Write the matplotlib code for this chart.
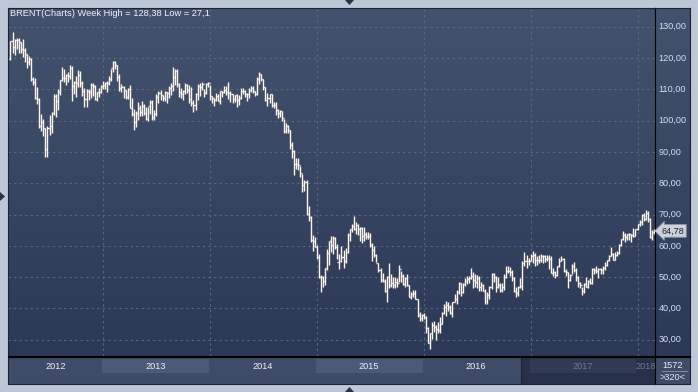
import numpy as np
import matplotlib.pyplot as plt
from matplotlib.colors import LinearSegmentedColormap
from matplotlib.patches import Rectangle, Polygon

# weekly bars, (high, low, close); first bar = week of 20 Feb 2012
bars_2012 = [
    (125.5, 119.4, 125.5), (128.4, 121.5, 123.6), (126.2, 121.0, 125.9), (126.4, 123.0, 125.8),
    (126.4, 121.7, 125.1), (125.2, 121.6, 122.9), (126.2, 120.5, 122.7), (123.3, 118.8, 121.2),
    (121.3, 116.9, 118.8), (120.7, 117.9, 119.8), (120.0, 112.6, 113.2), (114.0, 111.4, 112.3),
    (113.5, 107.0, 107.1), (110.6, 105.2, 106.8), (107.2, 97.6, 98.4), (102.0, 96.6, 99.5),
    (100.5, 95.2, 97.6), (97.8, 88.5, 91.0), (98.3, 88.5, 97.8), (101.8, 95.5, 98.2),
    (102.8, 96.0, 102.4), (108.5, 101.8, 107.8), (108.5, 101.2, 106.2), (110.0, 103.5, 109.0),
    (113.0, 108.3, 112.9), (117.3, 112.6, 113.7), (116.5, 112.3, 113.6), (115.0, 111.3, 114.6),
    (115.5, 112.3, 114.3), (117.9, 113.4, 116.7), (117.6, 106.4, 111.0), (112.6, 108.4, 112.4),
    (114.2, 107.7, 112.0), (116.2, 110.9, 114.6), (116.0, 110.7, 111.9), (112.6, 107.8, 109.6),
    (110.5, 104.5, 107.0), (110.0, 104.3, 109.4), (110.0, 106.5, 109.0), (111.9, 107.2, 111.4),
    (112.0, 107.8, 111.2), (111.3, 106.7, 107.0), (109.3, 106.3, 109.1), (110.4, 107.7, 109.0),
    (111.4, 108.8, 111.1), (112.6, 110.1, 111.3),
]
bars_2013 = [
    (112.2, 110.0, 111.9), (112.6, 109.3, 111.9), (114.4, 111.4, 113.3), (116.5, 112.8, 116.8),
    (119.2, 115.6, 118.9), (119.1, 116.6, 117.7), (117.9, 112.8, 114.0), (115.0, 109.4, 110.4),
    (111.8, 109.3, 110.9), (111.0, 107.1, 109.8), (109.8, 106.8, 107.7), (110.4, 106.8, 110.0),
    (111.5, 104.2, 104.1), (107.4, 101.6, 102.1), (103.7, 97.0, 99.7), (103.2, 98.1, 102.6),
    (106.1, 100.3, 104.2), (105.1, 101.4, 102.9), (106.2, 101.5, 104.6), (105.2, 101.9, 102.6),
    (104.4, 100.2, 100.4), (104.4, 99.8, 104.6), (106.5, 102.0, 105.9), (106.7, 100.1, 101.2),
    (103.5, 100.2, 102.2), (108.4, 101.6, 107.7), (109.5, 105.6, 108.8), (109.7, 106.7, 108.1),
    (108.2, 106.2, 107.2), (109.6, 106.4, 109.0), (109.1, 105.6, 108.7), (111.1, 107.4, 110.4),
    (112.0, 108.3, 111.0), (117.3, 109.4, 114.0), (116.5, 111.3, 116.0), (116.4, 110.8, 111.7),
    (112.0, 107.6, 109.2), (110.3, 107.3, 108.6), (109.8, 106.7, 109.5), (112.0, 108.4, 111.3),
    (111.8, 108.8, 109.9), (111.3, 105.8, 106.9), (110.7, 104.7, 105.5), (106.6, 102.8, 105.1),
    (108.8, 103.4, 108.5), (111.6, 106.7, 111.1), (112.0, 108.0, 110.8), (112.5, 109.8, 111.6),
    (110.0, 107.5, 108.8), (111.9, 108.4, 111.8), (112.2, 110.9, 112.0), (111.5, 106.5, 107.8),
]
bars_2014 = [
    (107.9, 105.7, 107.3), (107.4, 104.7, 106.5), (108.8, 106.3, 107.9), (108.4, 106.4, 106.4),
    (109.6, 105.4, 109.6), (109.5, 107.7, 109.1), (111.1, 108.7, 109.9), (111.0, 108.1, 109.1),
    (112.4, 106.8, 108.9), (109.5, 106.0, 108.6), (108.6, 105.8, 106.9), (108.1, 106.0, 108.1),
    (108.4, 104.5, 106.7), (108.2, 104.9, 107.4), (110.5, 107.0, 109.5), (110.4, 108.4, 109.6),
    (109.8, 107.6, 108.6), (108.7, 106.3, 108.4), (110.4, 107.1, 109.8), (111.2, 109.1, 110.5),
    (111.2, 108.7, 109.4), (109.4, 107.8, 108.6), (114.0, 108.2, 113.4), (115.7, 111.8, 114.8),
    (115.0, 112.6, 113.3), (113.4, 109.9, 110.6), (110.6, 106.2, 106.7), (108.9, 104.6, 107.2),
    (108.5, 105.5, 108.4), (108.6, 104.3, 105.0), (106.0, 104.0, 105.0), (106.0, 101.8, 103.5),
    (103.8, 100.9, 102.3), (103.5, 101.1, 103.2), (103.2, 100.0, 100.8), (100.6, 96.2, 96.7),
    (99.3, 96.1, 98.4), (98.6, 96.0, 97.0), (97.0, 90.8, 92.3), (93.3, 88.1, 90.2),
    (90.6, 82.6, 86.2), (88.1, 84.5, 86.1), (88.1, 84.3, 85.8), (85.5, 82.0, 83.4),
    (83.0, 77.2, 79.4), (81.0, 77.5, 80.4), (81.0, 69.8, 70.2), (72.7, 68.0, 69.1),
    (69.6, 61.3, 61.9), (63.5, 58.5, 61.4), (62.7, 59.5, 59.5), (60.3, 55.7, 56.4),
]
bars_2015 = [
    (57.3, 49.7, 50.1), (50.6, 45.2, 50.2), (50.5, 47.0, 48.8), (53.0, 47.6, 53.0),
    (59.1, 52.2, 57.8), (61.4, 53.9, 61.5), (63.0, 58.0, 60.2), (63.0, 57.4, 62.6),
    (62.9, 58.9, 59.7), (60.6, 55.8, 54.7), (57.3, 52.5, 55.3), (59.8, 54.8, 56.4),
    (58.8, 53.0, 55.0), (59.2, 54.4, 57.9), (64.0, 57.6, 63.5), (65.3, 61.6, 65.3),
    (67.1, 64.3, 66.5), (69.6, 65.0, 65.4), (67.6, 63.9, 66.8), (67.0, 63.6, 65.4),
    (66.1, 61.6, 65.6), (66.1, 60.9, 63.3), (65.9, 61.7, 63.9), (64.5, 62.3, 63.0),
    (64.4, 62.2, 63.3), (64.0, 59.7, 60.3), (61.0, 55.1, 58.7), (59.9, 56.5, 57.1),
    (57.3, 54.7, 54.6), (54.6, 51.6, 52.2), (52.8, 48.4, 49.0), (51.2, 48.3, 48.8),
    (49.3, 45.4, 45.5), (50.4, 42.2, 50.0), (54.4, 46.5, 47.6), (51.0, 46.9, 48.1),
    (50.0, 46.6, 47.5), (49.9, 46.6, 48.6), (49.7, 47.0, 48.1), (54.0, 48.3, 52.6),
    (52.0, 48.4, 50.5), (51.1, 47.4, 47.9), (50.2, 47.0, 49.6), (50.9, 47.3, 47.4),
    (47.6, 43.8, 43.6), (45.4, 43.0, 44.7), (46.0, 43.6, 44.9), (45.8, 42.9, 43.0),
    (43.0, 37.3, 37.9), (39.0, 36.0, 36.9), (38.3, 36.0, 38.0), (38.4, 36.5, 37.3),
]
bars_2016 = [
    (37.6, 32.2, 33.6), (34.0, 28.8, 28.9), (32.3, 27.1, 32.2), (35.8, 30.3, 34.7),
    (36.0, 32.6, 34.1), (34.6, 30.0, 33.4), (35.6, 32.2, 33.0), (37.2, 32.3, 35.1),
    (39.0, 35.1, 38.7), (41.5, 38.1, 40.4), (42.5, 37.5, 41.2), (42.0, 39.1, 40.4),
    (41.0, 38.1, 38.7), (42.0, 37.2, 41.9), (44.5, 41.9, 43.1), (45.8, 41.3, 45.1),
    (48.5, 44.7, 48.1), (48.0, 43.9, 45.4), (48.2, 44.8, 47.8), (49.6, 47.2, 48.7),
    (50.5, 47.8, 49.3), (50.3, 48.2, 49.6), (52.9, 49.4, 50.5), (51.5, 46.6, 49.2),
    (51.0, 46.9, 48.4), (50.6, 46.6, 49.7), (50.5, 45.6, 46.8), (48.5, 45.6, 47.6),
    (47.9, 45.6, 45.7), (46.2, 41.5, 42.5), (45.2, 41.5, 44.3), (47.2, 42.9, 47.0),
    (51.2, 46.2, 50.9), (51.3, 48.5, 49.9), (50.3, 45.2, 46.8), (50.0, 46.4, 47.4),
    (48.2, 45.1, 46.0), (48.0, 45.4, 46.9), (51.1, 45.8, 50.2), (53.7, 49.7, 52.0),
    (53.5, 51.2, 51.9), (53.1, 50.4, 51.8), (52.2, 48.7, 49.7), (49.9, 45.4, 45.6),
    (47.0, 43.8, 44.8), (47.1, 43.9, 46.9), (49.8, 46.5, 47.2), (55.2, 45.8, 54.5),
    (57.9, 53.4, 55.3), (57.2, 52.8, 55.2), (56.1, 53.8, 55.2), (57.3, 55.0, 56.8),
]
bars_2017 = [
    (58.4, 54.6, 57.1), (57.6, 53.6, 55.5), (56.7, 53.9, 55.5), (57.1, 54.6, 55.5),
    (57.3, 54.8, 56.8), (57.1, 54.6, 56.7), (57.1, 54.8, 55.8), (57.1, 55.2, 56.0),
    (57.0, 52.6, 55.9), (56.6, 51.4, 51.4), (53.0, 50.3, 51.8), (52.0, 49.7, 50.8),
    (53.6, 50.3, 53.5), (56.1, 53.2, 55.2), (56.6, 55.1, 55.9), (56.2, 51.6, 52.0),
    (52.6, 50.5, 51.7), (51.6, 46.6, 49.1), (51.1, 48.7, 50.8), (54.2, 50.9, 53.6),
    (54.7, 51.5, 52.2), (52.8, 48.8, 50.0), (50.5, 47.0, 48.2), (48.5, 46.4, 47.4),
    (47.0, 44.4, 45.5), (48.2, 44.8, 47.9), (50.2, 46.7, 46.7), (49.0, 46.4, 48.9),
    (49.8, 47.7, 48.1), (52.8, 47.7, 52.5), (53.0, 51.1, 52.4), (53.6, 51.3, 52.1),
    (52.8, 49.8, 52.7), (53.0, 50.9, 52.4), (53.4, 50.9, 52.8), (54.9, 52.4, 53.8),
    (55.6, 53.4, 55.6), (57.1, 55.2, 56.9), (59.5, 56.6, 57.5), (57.7, 55.4, 55.6),
    (58.0, 55.6, 57.2), (58.4, 56.9, 57.8), (60.5, 57.4, 60.4), (62.2, 59.9, 62.1),
    (64.7, 61.9, 63.5), (64.1, 61.1, 62.7), (63.8, 62.0, 63.9), (64.0, 61.8, 63.7),
    (63.9, 61.1, 63.4), (65.8, 62.7, 63.2), (65.5, 63.0, 65.3), (67.0, 65.1, 66.9),
]
bars_2018 = [
    (68.3, 66.5, 67.6), (70.1, 66.7, 69.9), (70.4, 68.0, 68.6), (71.3, 68.3, 70.5),
    (71.1, 67.5, 68.6), (69.0, 62.5, 62.8), (65.1, 61.8, 64.5), (65.3, 63.9, 64.78),
]
first_open = 119.6
years = [2012, 2013, 2014, 2015, 2016, 2017, 2018]
all_years = [bars_2012, bars_2013, bars_2014, bars_2015, bars_2016, bars_2017, bars_2018]
price_ticks = [30, 40, 50, 60, 70, 80, 90, 100, 110, 120, 130]
title = "BRENT(Charts) Week High = 128,38 Low = 27,1"

bars = np.array([b for yr in all_years for b in yr])
high, low, close = bars[:, 0], bars[:, 1], bars[:, 2]
opn = np.concatenate([[first_open], close[:-1]])  # weekly open ~ previous close
idx = np.arange(len(bars))
year_start = np.cumsum([0] + [len(y) for y in all_years])
year_start[1:-1] -= 1  # the week that holds 1 January belongs to the previous list

W, H = 698, 392
plt.rcParams["font.family"] = "Liberation Sans"

fig = plt.figure(figsize=(W / 100, H / 100), dpi=100)
fig.patch.set_facecolor("#bdc8d7")


def px(x0, y0, x1, y1):
    return [x0 / W, 1 - y1 / H, (x1 - x0) / W, (y1 - y0) / H]


ax = fig.add_axes(px(8, 8, 655, 356))
axp = fig.add_axes(px(655, 8, 690, 356), sharey=ax)
axt = fig.add_axes(px(8, 357, 655, 384), sharex=ax)
axc = fig.add_axes(px(655, 357, 690, 384))

grad = LinearSegmentedColormap.from_list("bg", ["#2b3956", "#43526d"])
for a in (ax, axp):
    a.imshow(np.linspace(0, 1, 256)[:, None], cmap=grad, origin="lower", aspect="auto",
             extent=[0, 1, 0, 1], transform=a.transAxes, zorder=0)

# OHLC bars
col = "#fff6ee"
ax.vlines(idx, low, high, color=col, lw=1.0, zorder=3)
ax.hlines(opn, idx - 0.5, idx, color=col, lw=1.0, zorder=3)
ax.hlines(close, idx, idx + 0.5, color=col, lw=1.0, zorder=3)

ax.set_xlim(-1.2, len(bars) - 0.5)
ax.set_ylim(24.8, 136)
ax.set_yticks(price_ticks)
ax.set_xticks(year_start[1:-1])
ax.grid(True, color="#5a6883", lw=0.8, ls=(0, (2, 3)))
ax.set_axisbelow(True)
ax.tick_params(length=0, labelleft=False, labelbottom=False)
for s in ("top", "left"):
    ax.spines[s].set_color("#1c2434")
for s in ("right", "bottom"):
    ax.spines[s].set_color("black")

fig.text(10 / W, 1 - 14 / H, title, color="#f2f5fa", fontsize=6.7, va="center")

# price axis panel
axp.tick_params(length=0, labelleft=False, labelbottom=False)
axp.set_xticks([])
for p in price_ticks:
    axp.text(0.1, p, f"{p:.2f}".replace(".", ","), transform=axp.get_yaxis_transform(),
             color="#d3e0f2", fontsize=6.6, va="center", ha="left")
axp.text(0.19, close[-1], f"{close[-1]:.2f}".replace(".", ","), transform=axp.get_yaxis_transform(),
         color="#1c2330", fontsize=6.6, va="center", ha="left",
         bbox=dict(boxstyle="larrow,pad=0.2", fc="#cdd2d9", ec="#8f99a8", lw=0.6))
for s in ("left", "bottom"):
    axp.spines[s].set_color("black")
for s in ("top", "right"):
    axp.spines[s].set_color("#1c2434")

# time axis panel
axt.set_facecolor("#3e4c67")
axt.set_ylim(0, 1)
axt.tick_params(length=0, labelleft=False, labelbottom=False)
axt.set_yticks([])
axt.add_patch(Rectangle((0.793, 0), 0.207, 1, transform=axt.transAxes, fc="#263149", ec="none", zorder=1))
axt.axvline(248.2, color="#1c2434", lw=0.8, zorder=2)
x0, x1 = ax.get_xlim()
for k, yr in enumerate(years):
    s, e = year_start[k] - 0.5, year_start[k + 1] - 0.5
    dark = yr >= 2017
    if k % 2 == 1:
        axt.axvspan(s, e, ymin=0.42, ymax=0.92, fc="#2f3b55" if dark else "#4b5a76", ec="none", zorder=2)
    cx = (max(s, x0) + min(e, x1 + 2)) / 2
    axt.text(cx, 0.66, str(yr), ha="center", va="center", fontsize=6.6,
             color="#6d7a90" if dark else "#eef2f8", clip_on=True, zorder=3)
axt.spines["top"].set_color("black")
axt.spines["right"].set_color("black")
for s in ("left", "bottom"):
    axt.spines[s].set_color("#1c2434")

axc.set_facecolor("#3e4c67")
axc.set_xticks([])
axc.set_yticks([])
axc.set_xlim(0, 1)
axc.set_ylim(0, 1)
axc.text(0.5, 0.7, "1572", ha="center", va="center", fontsize=6.6, color="#e8edf5")
axc.text(0.5, 0.24, ">320<", ha="center", va="center", fontsize=6.6, color="#e8edf5")
axc.plot([0.2, 0.9], [0.47, 0.47], color="#8794a8", lw=0.6)
axc.spines["top"].set_color("black")
axc.spines["left"].set_color("black")
for s in ("right", "bottom"):
    axc.spines[s].set_color("#1c2434")

# small scroll arrows on the frame
tri = "#2a3142"
for pts in ([(345, 0), (354, 0), (349.5, 5)], [(345, 392), (354, 392), (349.5, 387)],
            [(0, 192), (0, 201), (5, 196.5)]):
    fig.add_artist(Polygon([(x / W, 1 - y / H) for x, y in pts], closed=True,
                           transform=fig.transFigure, fc=tri, ec="none"))

fig.savefig("out.png", dpi=100, facecolor=fig.get_facecolor())
